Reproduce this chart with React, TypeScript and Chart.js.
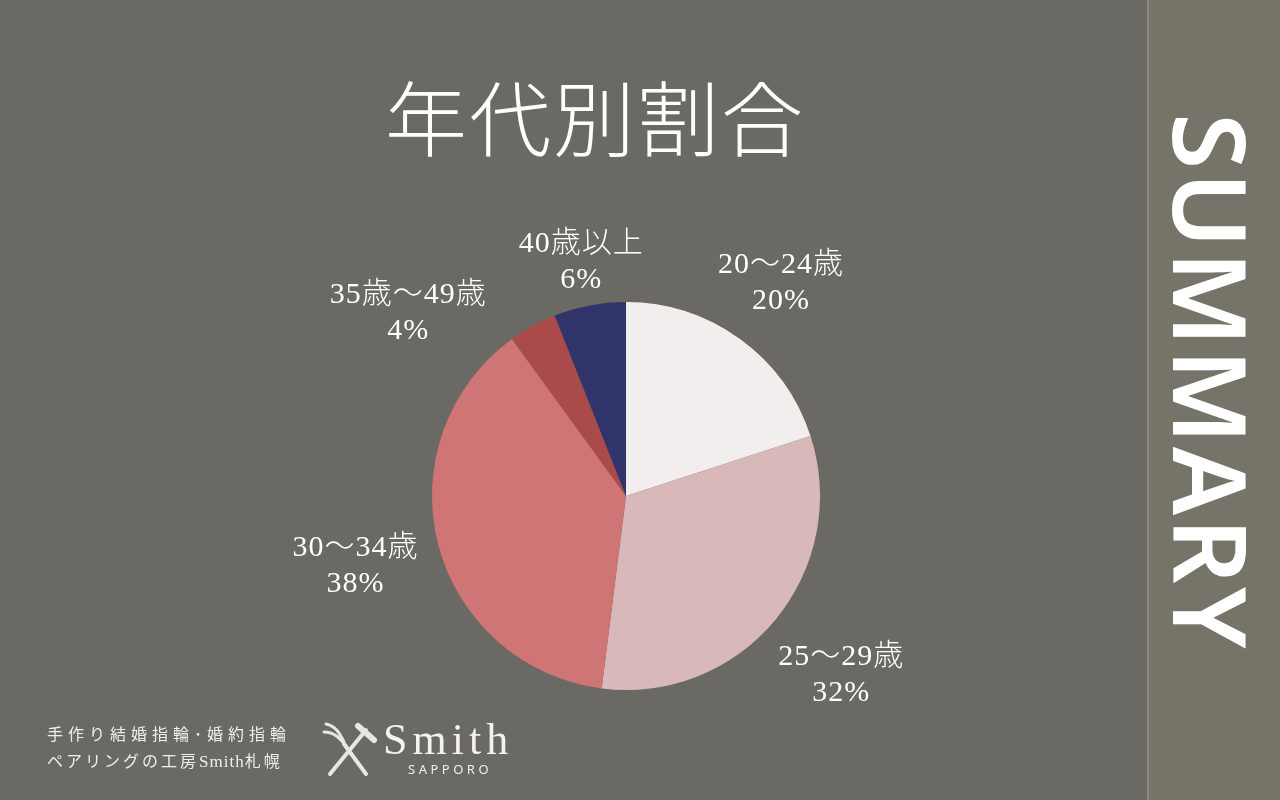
import React, { useEffect, useRef } from "react";
import { Chart, registerables } from "chart.js";

Chart.register(...registerables);

const categories = ["20～24歳", "25～29歳", "30～34歳", "35歳～49歳", "40歳以上"];
const shares = [20, 32, 38, 4, 6];
const sliceColors = ["#f3eeee", "#d9b8ba", "#cf7575", "#ab4a4a", "#30346b"];
const labelRadiusFactors = [1.36, 1.44, 1.44, 1.47, 1.23];
const labelAngleShiftsDeg = [0, 0, 0, -21, 0];

const BG = "#6a6964";
const SIDEBAR = "#767469";
const TEXT_FONT = '"Liberation Serif", "DejaVu Serif", "Noto Sans CJK JP", serif';

const labelPlugin = {
  id: "outerLabels",
  afterDatasetsDraw(chart: any) {
    const ctx = chart.ctx;
    const meta = chart.getDatasetMeta(0);
    ctx.save();
    ctx.fillStyle = "#ffffff";
    ctx.textAlign = "center";
    ctx.textBaseline = "middle";
    ctx.font = `300 30px ${TEXT_FONT}`;
    try {
      (ctx as any).letterSpacing = "1px";
    } catch (e) {}
    meta.data.forEach((arc: any, i: number) => {
      const p = arc.getProps(["x", "y", "startAngle", "endAngle", "outerRadius"], true);
      const mid = (p.startAngle + p.endAngle) / 2 + (labelAngleShiftsDeg[i] * Math.PI) / 180;
      const r = p.outerRadius * labelRadiusFactors[i];
      const cx = p.x + Math.cos(mid) * r;
      const cy = p.y + Math.sin(mid) * r;
      ctx.fillText(categories[i], cx, cy - 17);
      ctx.fillText(`${shares[i]}%`, cx, cy + 19);
    });
    ctx.restore();
  },
};

function PieChart() {
  const ref = useRef<HTMLCanvasElement | null>(null);
  useEffect(() => {
    if (!ref.current) return;
    const chart = new Chart(ref.current, {
      type: "pie",
      data: {
        labels: categories,
        datasets: [
          {
            data: shares,
            backgroundColor: sliceColors,
            borderWidth: 0,
          },
        ],
      },
      options: {
        animation: false,
        responsive: false,
        maintainAspectRatio: false,
        layout: { padding: { left: 432, right: 460, top: 302, bottom: 110 } },
        plugins: {
          legend: { display: false },
          tooltip: { enabled: false },
          title: { display: false },
        },
      },
      plugins: [labelPlugin],
    });
    return () => chart.destroy();
  }, []);
  return (
    <canvas
      ref={ref}
      width={1280}
      height={800}
      style={{ position: "absolute", left: 0, top: 0, width: 1280, height: 800 }}
    />
  );
}

function ToolsIcon() {
  return (
    <svg width="56" height="58" viewBox="0 0 56 58" style={{ position: "absolute", left: 322, top: 720 }}>
      <g stroke="#e8e6e2" strokeLinecap="round" fill="none">
        <line x1="8" y1="54" x2="44" y2="10" strokeWidth="4" />
        <line x1="36" y1="6" x2="52" y2="20" strokeWidth="6" />
        <path d="M4 4 C 14 6, 18 14, 22 22" strokeWidth="3" />
        <path d="M2 12 C 12 12, 18 18, 24 26" strokeWidth="3" />
        <line x1="22" y1="24" x2="44" y2="54" strokeWidth="4" />
      </g>
    </svg>
  );
}

export default function App() {
  return (
    <div
      style={{
        position: "fixed",
        left: 0,
        top: 0,
        width: 1280,
        height: 800,
        background: BG,
        overflow: "hidden",
      }}
    >
      <div
        style={{
          position: "absolute",
          left: 1147,
          top: 0,
          width: 133,
          height: 800,
          background: SIDEBAR,
          borderLeft: "2px solid #8a8880",
          boxSizing: "border-box",
        }}
      />
      <div
        style={{
          position: "absolute",
          left: 1152,
          top: 112,
          width: 120,
          height: 540,
          display: "flex",
          alignItems: "center",
          justifyContent: "center",
        }}
      >
        <div
          style={{
            writingMode: "vertical-rl",
            fontFamily: '"Noto Sans", "Open Sans", sans-serif',
            fontWeight: 600,
            fontSize: 102,
            lineHeight: 1,
            letterSpacing: 3,
            color: "#ffffff",
          }}
        >
          SUMMARY
        </div>
      </div>
      <div
        style={{
          position: "absolute",
          left: 295,
          top: 65,
          width: 600,
          textAlign: "center",
          fontFamily: '"Noto Sans CJK JP", sans-serif',
          fontWeight: 300,
          fontSize: 82,
          lineHeight: "100px",
          color: "#ffffff",
          letterSpacing: 2,
        }}
      >
        年代別割合
      </div>
      <PieChart />
      <div
        style={{
          position: "absolute",
          left: 47,
          top: 720,
          fontFamily: '"Noto Sans CJK JP", sans-serif',
          fontWeight: 400,
          fontSize: 16,
          lineHeight: "27px",
          color: "#f0eeea",
          whiteSpace: "nowrap",
        }}
      >
        <div style={{ letterSpacing: 5 }}>手作り結婚指輪･婚約指輪</div>
        <div style={{ letterSpacing: 3 }}>
          ペアリングの工房
          <span style={{ fontFamily: '"Liberation Serif", serif', fontSize: 17, letterSpacing: 1 }}>Smith</span>
          札幌
        </div>
      </div>
      <ToolsIcon />
      <div
        style={{
          position: "absolute",
          left: 383,
          top: 716,
          fontFamily: '"Liberation Serif", "DejaVu Serif", serif',
          fontSize: 44,
          lineHeight: "48px",
          letterSpacing: 5,
          color: "#f4f2ee",
        }}
      >
        Smith
      </div>
      <div
        style={{
          position: "absolute",
          left: 408,
          top: 761,
          fontFamily: '"Noto Sans", sans-serif',
          fontSize: 13,
          lineHeight: "16px",
          letterSpacing: 3.5,
          color: "#f0eeea",
        }}
      >
        SAPPORO
      </div>
    </div>
  );
}
